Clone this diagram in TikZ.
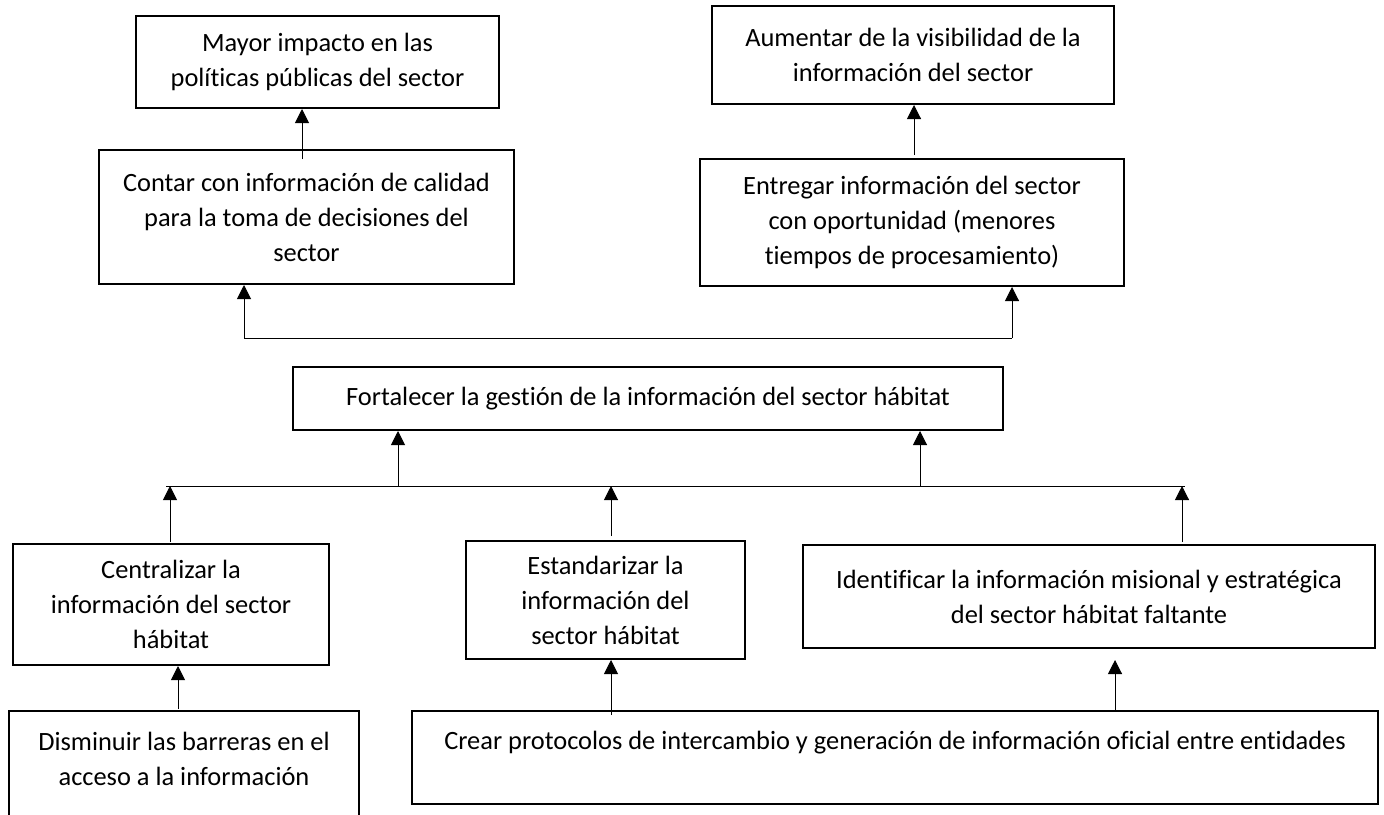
\documentclass[tikz,border=0pt]{standalone}
\usepackage{fontspec}
\setmainfont{Carlito}[Ligatures={NoCommon}]
\usepackage{tikz}
\usetikzlibrary{positioning}
\usetikzlibrary{arrows.meta}
\tikzset{>=stealth}
\tikzstyle{line} = [draw, line width=0.5pt, -{Triangle[length=7pt,width=7pt]}]
\begin{document}
\begin{tikzpicture}[x=0.5pt,y=-0.5pt,
      goal/.style={draw,
      line width=1pt,
      align=center,
      inner sep=0pt,
      font=\fontsize{13.2}{17.5}\selectfont}]
    \clip (0,0) rectangle (1384,814);
    %% Ends
    \node [goal, minimum width=181.5pt, minimum height=46pt] (M) at (317.5,62) {Mayor impacto en las\\pol\'iticas p\'ublicas del sector};
    \node [goal, minimum width=201pt, minimum height=49pt] (V) at (913,55) {Aumentar de la visibilidad de la\\informaci\'on del sector};
    \node [goal, minimum width=207.5pt, minimum height=67pt] (C) at (306.5,217) {Contar con informaci\'on de calidad\\para la toma de decisiones del\\sector};
    \node [goal, minimum width=212pt, minimum height=63.5pt] (E) at (912,222.5) {Entregar informaci\'on del sector\\con oportunidad (menores\\tiempos de procesamiento)};
    %% Purpose
    \node [goal, minimum width=355pt, minimum height=31.5pt] (F) at (648,398.5) {Fortalecer la gesti\'on de la informaci\'on del sector h\'abitat};
    %% Means
    \node [goal, minimum width=158pt, minimum height=60.5pt] (Ce) at (171,604.5) {Centralizar la\\informaci\'on del sector\\h\'abitat};
    \node [goal, minimum width=139.5pt, minimum height=59pt] (Es) at (605.5,600) {Estandarizar la\\informaci\'on del\\sector h\'abitat};
    \node [goal, minimum width=286pt, minimum height=51.5pt] (Id) at (1089,596.5) {Identificar la informaci\'on misional y estrat\'egica\\del sector h\'abitat faltante};
    \node [goal, minimum width=175pt, minimum height=65pt] (D) at (184,776) {Disminuir las barreras en el\\acceso a la informaci\'on\\\mbox{}};
    \node [goal, minimum width=483pt, minimum height=46.5pt] (P) at (895,757.5) {Crear protocolos de intercambio y generaci\'on de informaci\'on oficial entre entidades\\\mbox{}};
    %% Buses
    \coordinate (b1) at (244,338);
    \coordinate (b2) at (1012,338);
    \coordinate (b3) at (166,486);
    \coordinate (b4) at (1185,486);
    \draw [line width=0.5pt] (b1) -- (b2);
    \draw [line width=0.5pt] (b3) -- (b4);
    %% Arrow feet
    \coordinate (c1) at (302,159);
    \coordinate (e1) at (914,155);
    \coordinate (f1) at (398,486);
    \coordinate (f2) at (920,486);
    \coordinate (s1) at (170,542);
    \coordinate (s2) at (611,536);
    \coordinate (s3) at (1182,542);
    \coordinate (d1) at (178,709);
    \coordinate (p1) at (611,715);
    \coordinate (p2) at (1115,711);
    %% Arrows
    \path [line] (c1) to (c1 |- M.south);
    \path [line] (e1) to (e1 |- V.south);
    \path [line] (b1) to (b1 |- C.south);
    \path [line] (b2) to (b2 |- E.south);
    \path [line] (f1) to (f1 |- F.south);
    \path [line] (f2) to (f2 |- F.south);
    \path [line] (s1) to (s1 |- b3);
    \path [line] (s2) to (s2 |- b3);
    \path [line] (s3) to (s3 |- b3);
    \path [line] (d1) to (d1 |- Ce.south);
    \path [line] (p1) to (p1 |- Es.south);
    \path [line, shorten >=5.5pt] (p2) to (p2 |- Id.south);
  \end{tikzpicture}
\end{document}
